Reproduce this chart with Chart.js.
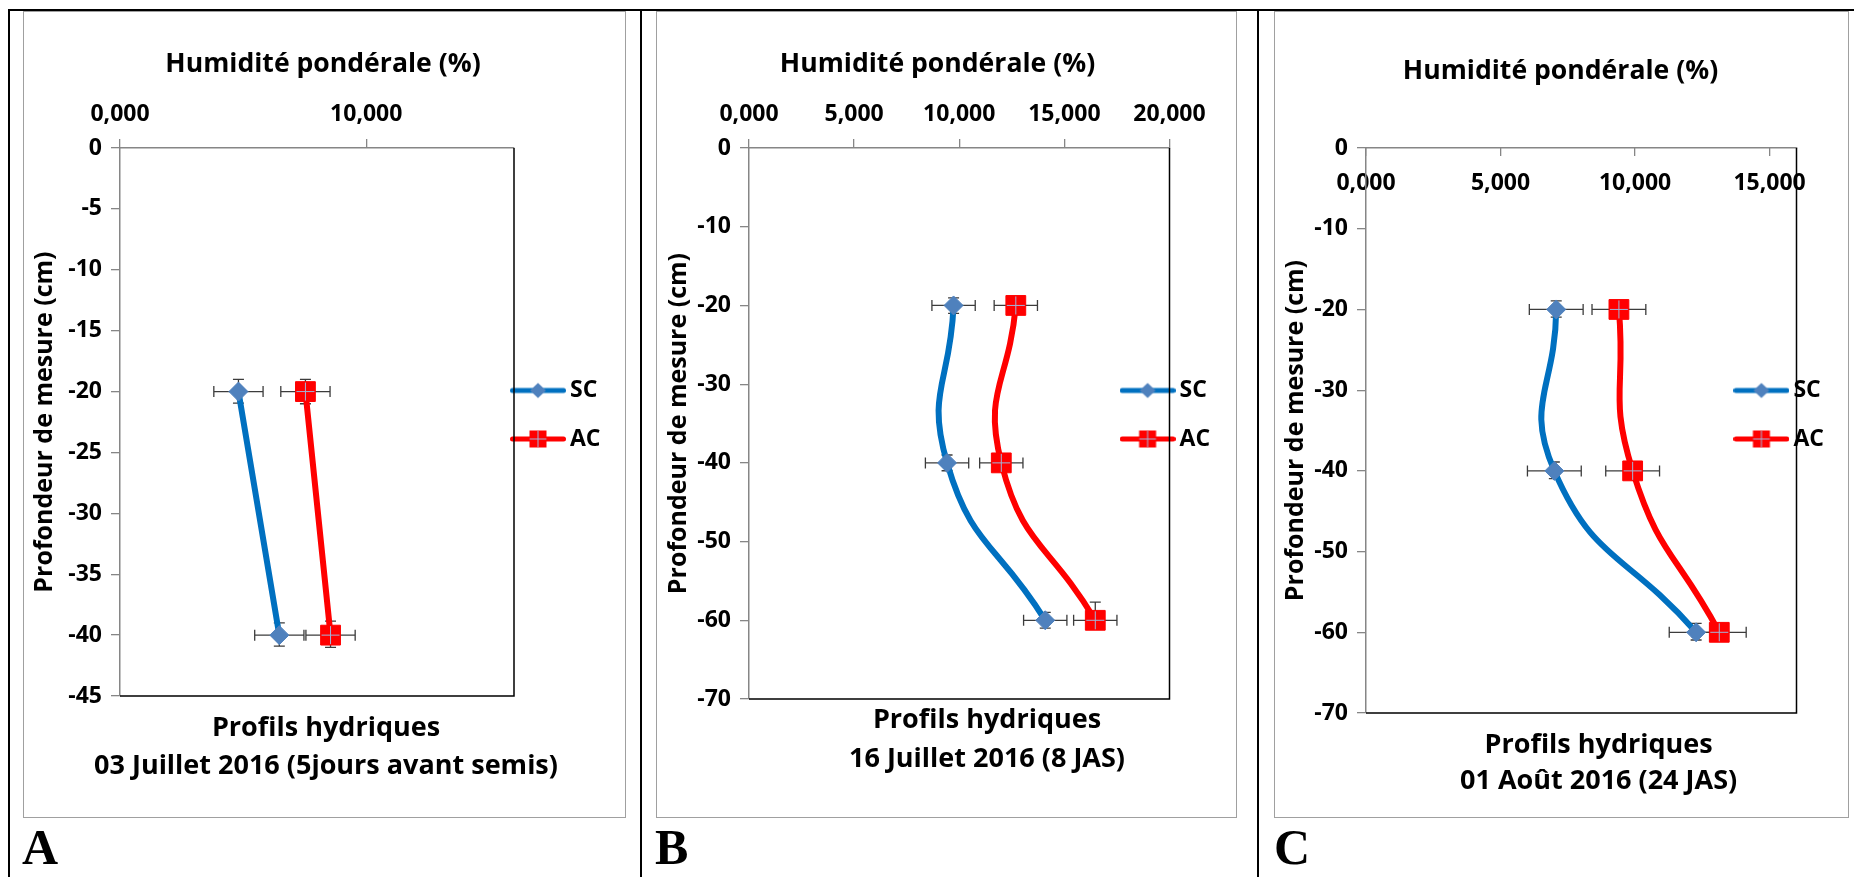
<!DOCTYPE html>
<html lang="fr">
<head>
<meta charset="utf-8">
<title>Profils hydriques</title>
<script src="https://cdn.jsdelivr.net/npm/chart.js@4.4.1/dist/chart.umd.min.js"></script>
<style>
  html, body { margin: 0; padding: 0; background: #fff; width: 1854px; height: 877px; overflow: hidden; }
  .bl { position: absolute; background: #000; }
  .box { position: absolute; box-sizing: border-box; border: 1.5px solid #A0A0A0; pointer-events: none; z-index: 2; }
  canvas { position: absolute; z-index: 1; }
  .letter { position: absolute; font-family: "Liberation Serif", "DejaVu Serif", serif; font-weight: bold; font-size: 50px; line-height: 1; z-index: 3; }
</style>
</head>
<body>
<!-- black figure frame -->
<div class="bl" style="left:8px;top:9px;width:1846px;height:2px"></div>
<div class="bl" style="left:8px;top:9px;width:2px;height:868px"></div>
<div class="bl" style="left:640px;top:9px;width:2px;height:868px"></div>
<div class="bl" style="left:1257px;top:9px;width:2px;height:868px"></div>

<canvas id="cA" width="603" height="807" style="left:23px;top:11px"></canvas>
<canvas id="cB" width="581" height="807" style="left:656px;top:11px"></canvas>
<canvas id="cC" width="575" height="807" style="left:1274px;top:11px"></canvas>

<div class="box" style="left:23px;top:11px;width:603px;height:807px"></div>
<div class="box" style="left:656px;top:11px;width:581px;height:807px"></div>
<div class="box" style="left:1274px;top:11px;width:575px;height:807px"></div>

<div class="letter" style="left:22px;top:822px">A</div>
<div class="letter" style="left:655px;top:822px">B</div>
<div class="letter" style="left:1274px;top:822px">C</div>

<script>
// ---------------- DATA ----------------
const seriesNames = ['SC', 'AC'];
const xTitle = 'Humidité pondérale (%)';
const yTitle = 'Profondeur de mesure (cm)';

// Panel A : 03 Juillet 2016
const depthA = [-20, -40];
const scA = [4.81, 6.47];
const acA = [7.53, 8.55];
const scXErrA = [1.0, 1.0];
const acXErrA = [1.0, 1.0];
const scYUpA = [1.0, 1.0], scYDownA = [0.95, 0.9];
const acYUpA = [1.0, 1.15], acYDownA = [1.0, 1.0];
const xTicksA = [0, 10];
const xTickLabelsA = ['0,000', '10,000'];
const yTicksA = [0, -5, -10, -15, -20, -25, -30, -35, -40, -45];
const yTickLabelsA = ['0', '-5', '-10', '-15', '-20', '-25', '-30', '-35', '-40', '-45'];
const subtitleA = ['Profils hydriques', '03 Juillet 2016 (5jours avant semis)'];

// Panel B : 16 Juillet 2016
const depthB = [-20, -40, -60];
const scB = [9.73, 9.42, 14.09];
const acB = [12.69, 12.00, 16.47];
const scXErrB = [1.03, 1.03, 1.03];
const acXErrB = [1.03, 1.03, 1.03];
const scYUpB = [0.95, 1.0, 1.0], scYDownB = [1.0, 1.0, 1.0];
const acYUpB = [1.0, 1.0, 2.3], acYDownB = [1.0, 1.0, 1.0];
const xTicksB = [0, 5, 10, 15, 20];
const xTickLabelsB = ['0,000', '5,000', '10,000', '15,000', '20,000'];
const yTicksB = [0, -10, -20, -30, -40, -50, -60, -70];
const yTickLabelsB = ['0', '-10', '-20', '-30', '-40', '-50', '-60', '-70'];
const subtitleB = ['Profils hydriques', '16 Juillet 2016 (8 JAS)'];

// Panel C : 01 Août 2016
const depthC = [-20, -40, -60];
const scC = [7.07, 7.00, 12.27];
const acC = [9.40, 9.91, 13.13];
const scXErrC = [1.0, 1.0, 1.0];
const acXErrC = [1.0, 1.0, 1.0];
const scYUpC = [1.05, 1.1, 1.1], scYDownC = [0.95, 0.95, 0.95];
const acYUpC = [1.0, 1.0, 1.1], acYDownC = [1.0, 1.0, 1.0];
const xTicksC = [0, 5, 10, 15];
const xTickLabelsC = ['0,000', '5,000', '10,000', '15,000'];
const yTicksC = [0, -10, -20, -30, -40, -50, -60, -70];
const yTickLabelsC = ['0', '-10', '-20', '-30', '-40', '-50', '-60', '-70'];
const subtitleC = ['Profils hydriques', '01 Août 2016 (24 JAS)'];

// ---------------- STYLE ----------------
const FONT = '"Open Sans", "Noto Sans", "DejaVu Sans", sans-serif';
const SC_LINE = '#0070C0', SC_MARK = '#4F81BD';
const AC_LINE = '#FF0000', AC_MARK = '#FF0000';
const CROSS = '#A3B4D9';
const ERR = '#3C3C3C';
const AXIS = '#868686';
const LINE_W = 6;
const TICK_FONT = 23, TITLE_FONT = 26.6, SUB_FONT = 27, YTITLE_FONT = 25, LEGEND_FONT = 23;

Chart.defaults.color = '#000';
Chart.defaults.font.family = FONT;
Chart.defaults.font.weight = 'bold';

function legendImage(lineColor, markColor, kind) {
  const c = document.createElement('canvas');
  c.width = 56; c.height = 22;
  const g = c.getContext('2d');
  g.strokeStyle = lineColor; g.lineWidth = 5; g.lineCap = 'round';
  g.beginPath(); g.moveTo(2.5, 11); g.lineTo(53.5, 11); g.stroke();
  g.fillStyle = markColor;
  if (kind === 'diamond') {
    g.beginPath(); g.moveTo(20, 11); g.lineTo(28, 3.5); g.lineTo(36, 11); g.lineTo(28, 18.5); g.closePath(); g.fill();
  } else {
    g.fillRect(19.5, 2.5, 17, 17);
    g.strokeStyle = CROSS; g.lineWidth = 1;
    g.beginPath(); g.moveTo(20, 11); g.lineTo(36, 11); g.moveTo(28, 3); g.lineTo(28, 19); g.stroke();
  }
  return c;
}
const legendImgs = [legendImage(SC_LINE, SC_MARK, 'diamond'), legendImage(AC_LINE, AC_MARK, 'square')];

// error bars + plot-area border (drawn under the series)
const errorBarPlugin = {
  id: 'errorBars',
  beforeDatasetsDraw(chart) {
    const ctx = chart.ctx, xs = chart.scales.x, ys = chart.scales.y, a = chart.chartArea;
    ctx.save();
    ctx.strokeStyle = '#000'; ctx.lineWidth = 1.5;
    ctx.beginPath(); ctx.moveTo(a.right, a.top); ctx.lineTo(a.right, a.bottom); ctx.lineTo(a.left, a.bottom); ctx.stroke();
    ctx.strokeStyle = ERR; ctx.lineWidth = 1.3;
    const cap = 5.5;
    chart.data.datasets.forEach(ds => {
      ds.data.forEach((p, i) => {
        const px = xs.getPixelForValue(p.x), py = ys.getPixelForValue(p.y);
        const x1 = xs.getPixelForValue(p.x - ds.xErr[i]), x2 = xs.getPixelForValue(p.x + ds.xErr[i]);
        const y1 = ys.getPixelForValue(p.y + ds.yErrUp[i]), y2 = ys.getPixelForValue(p.y - ds.yErrDown[i]);
        ctx.beginPath();
        ctx.moveTo(x1, py); ctx.lineTo(x2, py);
        ctx.moveTo(x1, py - cap); ctx.lineTo(x1, py + cap);
        ctx.moveTo(x2, py - cap); ctx.lineTo(x2, py + cap);
        ctx.moveTo(px, y1); ctx.lineTo(px, y2);
        ctx.moveTo(px - cap, y1); ctx.lineTo(px + cap, y1);
        ctx.moveTo(px - cap, y2); ctx.lineTo(px + cap, y2);
        ctx.stroke();
      });
    });
    ctx.restore();
  },
  afterDatasetsDraw(chart) {
    const ctx = chart.ctx;
    chart.data.datasets.forEach((ds, i) => {
      if (!ds.cross) return;
      const meta = chart.getDatasetMeta(i);
      ctx.save(); ctx.strokeStyle = CROSS; ctx.lineWidth = 1;
      meta.data.forEach(pt => {
        const {x, y} = pt.getProps(['x', 'y'], true);
        ctx.beginPath();
        ctx.moveTo(x - 9, y); ctx.lineTo(x + 9, y);
        ctx.moveTo(x, y - 9); ctx.lineTo(x, y + 9);
        ctx.stroke();
      });
      ctx.restore();
    });
  }
};

function placePlugin(L) {
  return {
    id: 'place',
    afterLayout(chart) {
      const scales = Object.values(chart.scales);
      const t = chart.titleBlock;
      if (t) { t.left = L.titleX - 290; t.right = L.titleX + 290; }
      const sub = chart.boxes.find(b => b !== chart.titleBlock && b !== chart.legend && !scales.includes(b) && b.options && b.options.position === 'bottom');
      if (sub) { sub.left = L.subX - 290; sub.right = L.subX + 290; }
      const lg = chart.legend;
      if (lg) {
        lg.left = L.legendLeft; lg.top = L.legendTop;
        lg.width = 160; lg.height = 400;
        lg.right = lg.left + 160; lg.bottom = lg.top + 400;
      }
    }
  };
}

function makeChart(id, P, L) {
  const datasets = [
    {
      label: seriesNames[0],
      data: P.depth.map((d, i) => ({x: P.sc[i], y: d})),
      xErr: P.scXErr, yErrUp: P.scYUp, yErrDown: P.scYDown,
      showLine: true, borderColor: SC_LINE, borderWidth: LINE_W, tension: P.tension,
      borderCapStyle: 'round', borderJoinStyle: 'round',
      pointStyle: 'rectRot', pointRadius: 9.5, pointHoverRadius: 9.5,
      pointBackgroundColor: SC_MARK, pointBorderColor: SC_MARK, pointBorderWidth: 1
    },
    {
      label: seriesNames[1],
      data: P.depth.map((d, i) => ({x: P.ac[i], y: d})),
      xErr: P.acXErr, yErrUp: P.acYUp, yErrDown: P.acYDown, cross: true,
      showLine: true, borderColor: AC_LINE, borderWidth: LINE_W, tension: P.tension,
      borderCapStyle: 'round', borderJoinStyle: 'round',
      pointStyle: 'rect', pointRadius: 14, pointHoverRadius: 14,
      pointBackgroundColor: AC_MARK, pointBorderColor: AC_MARK, pointBorderWidth: 1
    }
  ];
  return new Chart(document.getElementById(id), {
    type: 'scatter',
    data: {datasets},
    options: {
      responsive: false, animation: false, events: [],
      layout: {padding: {left: 0, top: 0, right: L.padR, bottom: 0}},
      scales: {
        x: {
          type: 'linear', position: 'top', min: 0, max: P.xMax,
          afterBuildTicks: s => { s.ticks = P.xTicks.map(v => ({value: v})); },
          afterFit: s => { s.height = L.xAxisH; },
          ticks: {autoSkip: false, maxRotation: 0, padding: L.xTickPad, mirror: L.xMirror, color: '#000',
                  font: {family: FONT, size: TICK_FONT, weight: 'bold', lineHeight: 1.2},
                  callback: v => P.xLabels[P.xTicks.indexOf(v)]},
          grid: {drawOnChartArea: false, drawTicks: true, tickLength: L.xTickLen, color: AXIS, lineWidth: 1.3},
          border: {display: true, color: AXIS, width: 1.5}
        },
        y: {
          type: 'linear', position: 'left', min: P.yTicks[P.yTicks.length - 1], max: 0,
          afterBuildTicks: s => { s.ticks = P.yTicks.map(v => ({value: v})); },
          afterFit: s => { s.width = L.yAxisW; },
          ticks: {autoSkip: false, padding: L.yTickPad, color: '#000',
                  font: {family: FONT, size: TICK_FONT, weight: 'bold'},
                  callback: v => P.yLabels[P.yTicks.indexOf(v)]},
          grid: {drawOnChartArea: false, drawTicks: true, tickLength: 9, color: AXIS, lineWidth: 1.3},
          border: {display: true, color: AXIS, width: 1.5},
          title: {display: true, text: yTitle, color: '#000', padding: {top: L.yTitlePad, bottom: 0},
                  font: {family: FONT, size: YTITLE_FONT, weight: 'bold', lineHeight: 1.2}}
        }
      },
      plugins: {
        title: {display: true, text: xTitle, position: 'top', color: '#000',
                font: {family: FONT, size: TITLE_FONT, weight: 'bold', lineHeight: 1.2},
                padding: {top: L.titlePadTop, bottom: 0}},
        subtitle: {display: true, text: P.subtitle, position: 'bottom', color: '#000',
                   font: {family: FONT, size: SUB_FONT, weight: 'bold', lineHeight: L.subLH},
                   padding: {top: L.subPadTop, bottom: L.subPadBottom}},
        legend: {
          display: true, position: 'chartArea', align: 'start',
          labels: {
            usePointStyle: true, pointStyleWidth: 41, padding: 25.5, color: '#000',
            font: {family: FONT, size: LEGEND_FONT, weight: 'bold'},
            generateLabels: chart => chart.data.datasets.map((ds, i) => ({
              text: ds.label, pointStyle: legendImgs[i], fontColor: '#000',
              datasetIndex: i, hidden: false, lineWidth: 0, strokeStyle: 'rgba(0,0,0,0)', fillStyle: 'rgba(0,0,0,0)'
            }))
          }
        },
        tooltip: {enabled: false}
      }
    },
    plugins: [errorBarPlugin, placePlugin(L)]
  });
}

makeChart('cA',
  {depth: depthA, sc: scA, ac: acA, scXErr: scXErrA, acXErr: acXErrA,
   scYUp: scYUpA, scYDown: scYDownA, acYUp: acYUpA, acYDown: acYDownA,
   xMax: 16, xTicks: xTicksA, xLabels: xTickLabelsA, yTicks: yTicksA, yLabels: yTickLabelsA,
   subtitle: subtitleA, tension: 0},
  {padR: 112, yAxisW: 97, xAxisH: 68.1, titlePadTop: 37, xTickPad: 11.2, xTickLen: 9, xMirror: false, yTickPad: 9,
   yTitlePad: 7, subLH: 1.407, subPadTop: 13.5, subPadBottom: 32.5,
   titleX: 300, subX: 303, legendLeft: 469, legendTop: 342.5});

makeChart('cB',
  {depth: depthB, sc: scB, ac: acB, scXErr: scXErrB, acXErr: acXErrB,
   scYUp: scYUpB, scYDown: scYDownB, acYUp: acYUpB, acYDown: acYDownB,
   xMax: 20, xTicks: xTicksB, xLabels: xTickLabelsB, yTicks: yTicksB, yLabels: yTickLabelsB,
   subtitle: subtitleB, tension: 0.5},
  {padR: 67.5, yAxisW: 93, xAxisH: 68.1, titlePadTop: 37, xTickPad: 11.2, xTickLen: 9, xMirror: false, yTickPad: 9,
   yTitlePad: 8, subLH: 1.444, subPadTop: 1.5, subPadBottom: 39.5,
   titleX: 281.5, subX: 331, legendLeft: 445.6, legendTop: 342.5});

makeChart('cC',
  {depth: depthC, sc: scC, ac: acC, scXErr: scXErrC, acXErr: acXErrC,
   scYUp: scYUpC, scYDown: scYDownC, acYUp: acYUpC, acYDown: acYDownC,
   xMax: 16, xTicks: xTicksC, xLabels: xTickLabelsC, yTicks: yTicksC, yLabels: yTickLabelsC,
   subtitle: subtitleC, tension: 0.5},
  {padR: 52.5, yAxisW: 92, xAxisH: 60.6, titlePadTop: 44.5, xTickPad: 21.2, xTickLen: -8, xMirror: true, yTickPad: 9,
   yTitlePad: 7, subLH: 1.344, subPadTop: 14.3, subPadBottom: 18.1,
   titleX: 286.5, subX: 324.6, legendLeft: 441.4, legendTop: 342.5});
</script>
</body>
</html>
